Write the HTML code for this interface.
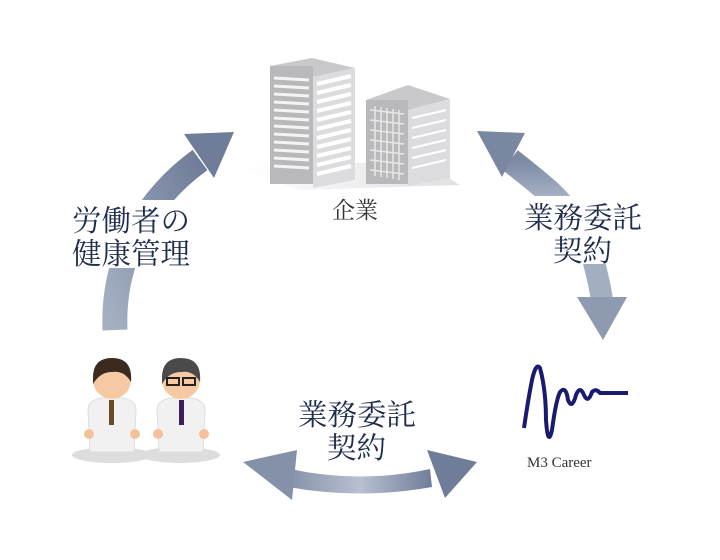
<!DOCTYPE html>
<html><head><meta charset="utf-8"><style>
body{margin:0;background:#fff;width:720px;height:560px;overflow:hidden;}
svg{display:block}
text{font-family:"Liberation Serif","Noto Serif CJK SC",serif;}
</style></head><body>
<svg width="720" height="560" viewBox="0 0 720 560" xmlns="http://www.w3.org/2000/svg">
<defs>
<linearGradient id="ga" x1="0" y1="1" x2="1" y2="0"><stop offset="0" stop-color="#a4afc2"/><stop offset="1" stop-color="#6f7d99"/></linearGradient>
<linearGradient id="gb" x1="0" y1="0" x2="1" y2="0"><stop offset="0" stop-color="#8591a9"/><stop offset="0.5" stop-color="#b7c0d0"/><stop offset="1" stop-color="#6f7d99"/></linearGradient>
<linearGradient id="gc" x1="0" y1="0" x2="0" y2="1"><stop offset="0" stop-color="#7c89a3"/><stop offset="1" stop-color="#b5bfd0"/></linearGradient>
<linearGradient id="sh" x1="0" y1="0" x2="1" y2="0"><stop offset="0" stop-color="#fff"/><stop offset="1" stop-color="#ccc"/></linearGradient>
</defs>
<!-- left arrow -->
<path d="M115 330 C112 260 145 200 200 160" stroke="url(#ga)" stroke-width="25" fill="none"/>
<polygon points="234,132 184,134 214,178" fill="#6f7d99"/>
<!-- right arrow -->
<path d="M510 160 C535 180 555 195 565 210" stroke="url(#gc)" stroke-width="25" fill="none"/>
<polygon points="477,131 525,133 502,177" fill="#7a87a1"/>
<path d="M592 255 C596 270 600 285 602 300" stroke="#a3aec1" stroke-width="22" fill="none"/>
<polygon points="577,297 627,297 603,340" fill="#8e9ab0"/>
<!-- bottom arrow -->
<path d="M290 469 Q360 484 430 469 L432 487 Q360 500 288 487 Z" fill="url(#gb)"/>
<polygon points="243,462 297,450 292,500" fill="#8591a9"/>
<polygon points="477,462 427,450 445,498" fill="#6f7d99"/>
<!-- text masks -->
<rect x="68" y="200" width="126" height="68" fill="#fff"/>
<rect x="520" y="196" width="125" height="68" fill="#fff"/>
<!-- buildings -->
<polygon points="240,168 300,190 460,185 420,160" fill="url(#sh)" opacity="0.6"/>
<polygon points="270,66 312,58 355,68 313,77" fill="#c9c9cb"/>
<rect x="270" y="66" width="43" height="118" fill="#b9b9bb"/>
<polygon points="313,77 355,68 355,180 313,188" fill="#dcdcde"/>
<g stroke="#f4f4f4" stroke-width="3">
<line x1="274" y1="78" x2="309" y2="80"/><line x1="274" y1="86" x2="309" y2="88"/><line x1="274" y1="94" x2="309" y2="96"/><line x1="274" y1="102" x2="309" y2="104"/><line x1="274" y1="110" x2="309" y2="112"/><line x1="274" y1="118" x2="309" y2="120"/><line x1="274" y1="126" x2="309" y2="128"/><line x1="274" y1="134" x2="309" y2="136"/><line x1="274" y1="142" x2="309" y2="144"/><line x1="274" y1="150" x2="309" y2="152"/><line x1="274" y1="158" x2="309" y2="160"/><line x1="274" y1="166" x2="309" y2="168"/>
</g>
<g stroke="#fff" stroke-width="4">
<line x1="317" y1="84" x2="351" y2="76"/><line x1="317" y1="93" x2="351" y2="85"/><line x1="317" y1="102" x2="351" y2="94"/><line x1="317" y1="111" x2="351" y2="103"/><line x1="317" y1="120" x2="351" y2="112"/><line x1="317" y1="129" x2="351" y2="121"/><line x1="317" y1="138" x2="351" y2="130"/><line x1="317" y1="147" x2="351" y2="139"/><line x1="317" y1="156" x2="351" y2="148"/><line x1="317" y1="165" x2="351" y2="157"/><line x1="317" y1="174" x2="351" y2="166"/>
</g>
<polygon points="366,100 408,85 450,99 408,110" fill="#c9c9cb"/>
<rect x="366" y="100" width="42" height="84" fill="#b9b9bb"/>
<polygon points="408,110 450,99 450,178 408,186" fill="#dcdcde"/>
<g stroke="#e8e8e8" stroke-width="1.5">
<line x1="370" y1="110" x2="404" y2="114"/><line x1="370" y1="120" x2="404" y2="124"/><line x1="370" y1="130" x2="404" y2="134"/><line x1="370" y1="140" x2="404" y2="144"/><line x1="370" y1="150" x2="404" y2="154"/><line x1="370" y1="160" x2="404" y2="164"/><line x1="370" y1="170" x2="404" y2="174"/>
<line x1="375" y1="106" x2="375" y2="176"/><line x1="381" y1="107" x2="381" y2="177"/><line x1="387" y1="108" x2="387" y2="178"/><line x1="393" y1="109" x2="393" y2="179"/><line x1="399" y1="110" x2="399" y2="180"/>
</g>
<g stroke="#fff" stroke-width="2">
<line x1="412" y1="118" x2="446" y2="110"/><line x1="412" y1="128" x2="446" y2="120"/><line x1="412" y1="138" x2="446" y2="130"/><line x1="412" y1="148" x2="446" y2="140"/><line x1="412" y1="158" x2="446" y2="150"/><line x1="412" y1="168" x2="446" y2="160"/>
</g>
<!-- labels -->
<g fill="#1f2d4d" font-size="29.5">
<text x="72" y="231">労働者の</text>
<text x="72" y="264">健康管理</text>
<text x="524" y="228">業務委託</text>
<text x="553" y="261">契約</text>
<text x="298" y="425">業務委託</text>
<text x="327" y="458">契約</text>
</g>
<text x="332" y="218" font-size="23" fill="#333">企業</text>
<!-- doctors -->
<g>
<ellipse cx="112" cy="455" rx="40" ry="8" fill="#ddd"/>
<ellipse cx="180" cy="455" rx="40" ry="8" fill="#ddd"/>
<path d="M88 410 Q88 400 102 398 L122 398 Q136 400 136 410 L134 452 L90 452 Z" fill="#f1f1f1" stroke="#ddd"/>
<rect x="109" y="400" width="5" height="25" fill="#6b4a2a"/>
<circle cx="112" cy="380" r="19" fill="#f7c9a3"/>
<path d="M93 380 Q92 358 112 358 Q133 358 131 382 Q124 370 112 372 Q100 372 93 384 Z" fill="#3a2a20"/>
<circle cx="89" cy="434" r="5" fill="#f5c19c"/><circle cx="135" cy="434" r="5" fill="#f5c19c"/>
<path d="M157 410 Q157 400 171 398 L191 398 Q205 400 205 410 L203 452 L159 452 Z" fill="#f1f1f1" stroke="#ddd"/>
<rect x="179" y="400" width="5" height="25" fill="#3a1f5a"/>
<circle cx="181" cy="380" r="19" fill="#f7c9a3"/>
<path d="M162 380 Q161 358 181 358 Q202 358 200 382 Q193 370 181 372 Q169 372 162 384 Z" fill="#4a4a4a"/>
<rect x="167" y="378" width="12" height="7" fill="none" stroke="#222" stroke-width="2"/><rect x="183" y="378" width="12" height="7" fill="none" stroke="#222" stroke-width="2"/>
<circle cx="158" cy="434" r="5" fill="#f5c19c"/><circle cx="204" cy="434" r="5" fill="#f5c19c"/>
</g>
<!-- M3 logo -->
<path d="M524 428 Q528 400 532 380 Q536 362 540 368 Q546 390 546 420 Q548 448 552 430 Q556 400 560 392 Q566 385 568 400 Q572 410 576 395 Q580 385 584 395 Q588 404 592 392 Q596 388 600 393 L628 393" stroke="#1a1a6e" stroke-width="4" fill="none" stroke-linejoin="round"/>
<text x="527" y="467" font-size="15" fill="#333">M3 Career</text>
</svg>
</body></html>
